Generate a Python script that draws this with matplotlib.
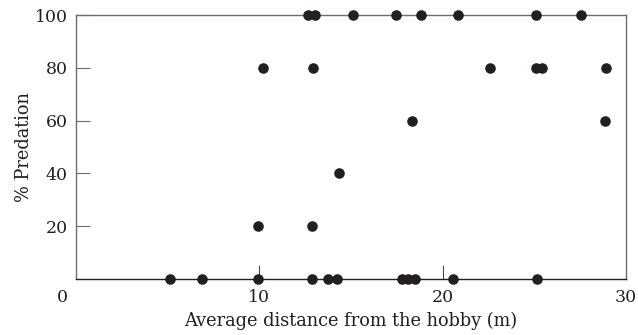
import matplotlib.pyplot as plt
import numpy as np

plt.rcParams['font.family'] = ['DejaVu Serif']

# average distance from the hobby (m) and % predation
dist = [12.67, 13.04, 15.09, 17.44, 18.82, 20.86, 25.11, 27.57,
        10.22, 12.95, 22.57, 25.11, 25.42, 28.93,
        18.33, 28.88,
        14.35,
        9.95, 12.89,
        5.13, 6.86, 9.95, 12.86, 13.77, 14.22, 17.77, 18.13, 18.49, 20.55, 25.15]
pred = [100, 100, 100, 100, 100, 100, 100, 100,
        80, 80, 80, 80, 80, 80,
        60, 60,
        40,
        20, 20,
        0, 0, 0, 0, 0, 0, 0, 0, 0, 0, 0]

xticks = [10, 20, 30]
yticks = [20, 40, 60, 80, 100]

fig = plt.figure(figsize=(6.38, 3.35), dpi=100)
ax = fig.add_axes([0.1191, 0.1672, 0.862, 0.788])

ax.scatter(dist, pred, s=58, color='#231f20', zorder=3, clip_on=False, linewidths=0)

ax.set_xlim(0, 30)
ax.set_ylim(0, 100)

ax.set_xticks(xticks)
ax.set_yticks(yticks)
ax.tick_params(axis='y', direction='in', length=10, width=0.8, color='#6d6d6d',
               labelsize=12.5, labelcolor='#231f20', pad=6)
ax.tick_params(axis='x', direction='in', length=10, width=0.6, color='#231f20',
               labelsize=12.5, labelcolor='#231f20', pad=7.5)
# no tick mark at 30 (right spine)
ax.xaxis.get_major_ticks()[2].tick1line.set_visible(False)

for side in ['left', 'top', 'right']:
    ax.spines[side].set_color('#6d6d6d')
    ax.spines[side].set_linewidth(1.0)
ax.spines['bottom'].set_color('#231f20')
ax.spines['bottom'].set_linewidth(1.0)

ax.annotate('0', xy=(0, 0), xytext=(-10, -13.5), textcoords='offset points',
            ha='center', va='center', fontsize=12.5, color='#231f20',
            annotation_clip=False)

ax.set_xlabel('Average distance from the hobby (m)', fontsize=12.8,
              color='#231f20', labelpad=3.5)
ax.set_ylabel('% Predation', fontsize=12.8, color='#231f20', labelpad=1)

fig.savefig('out.png', dpi=100)
